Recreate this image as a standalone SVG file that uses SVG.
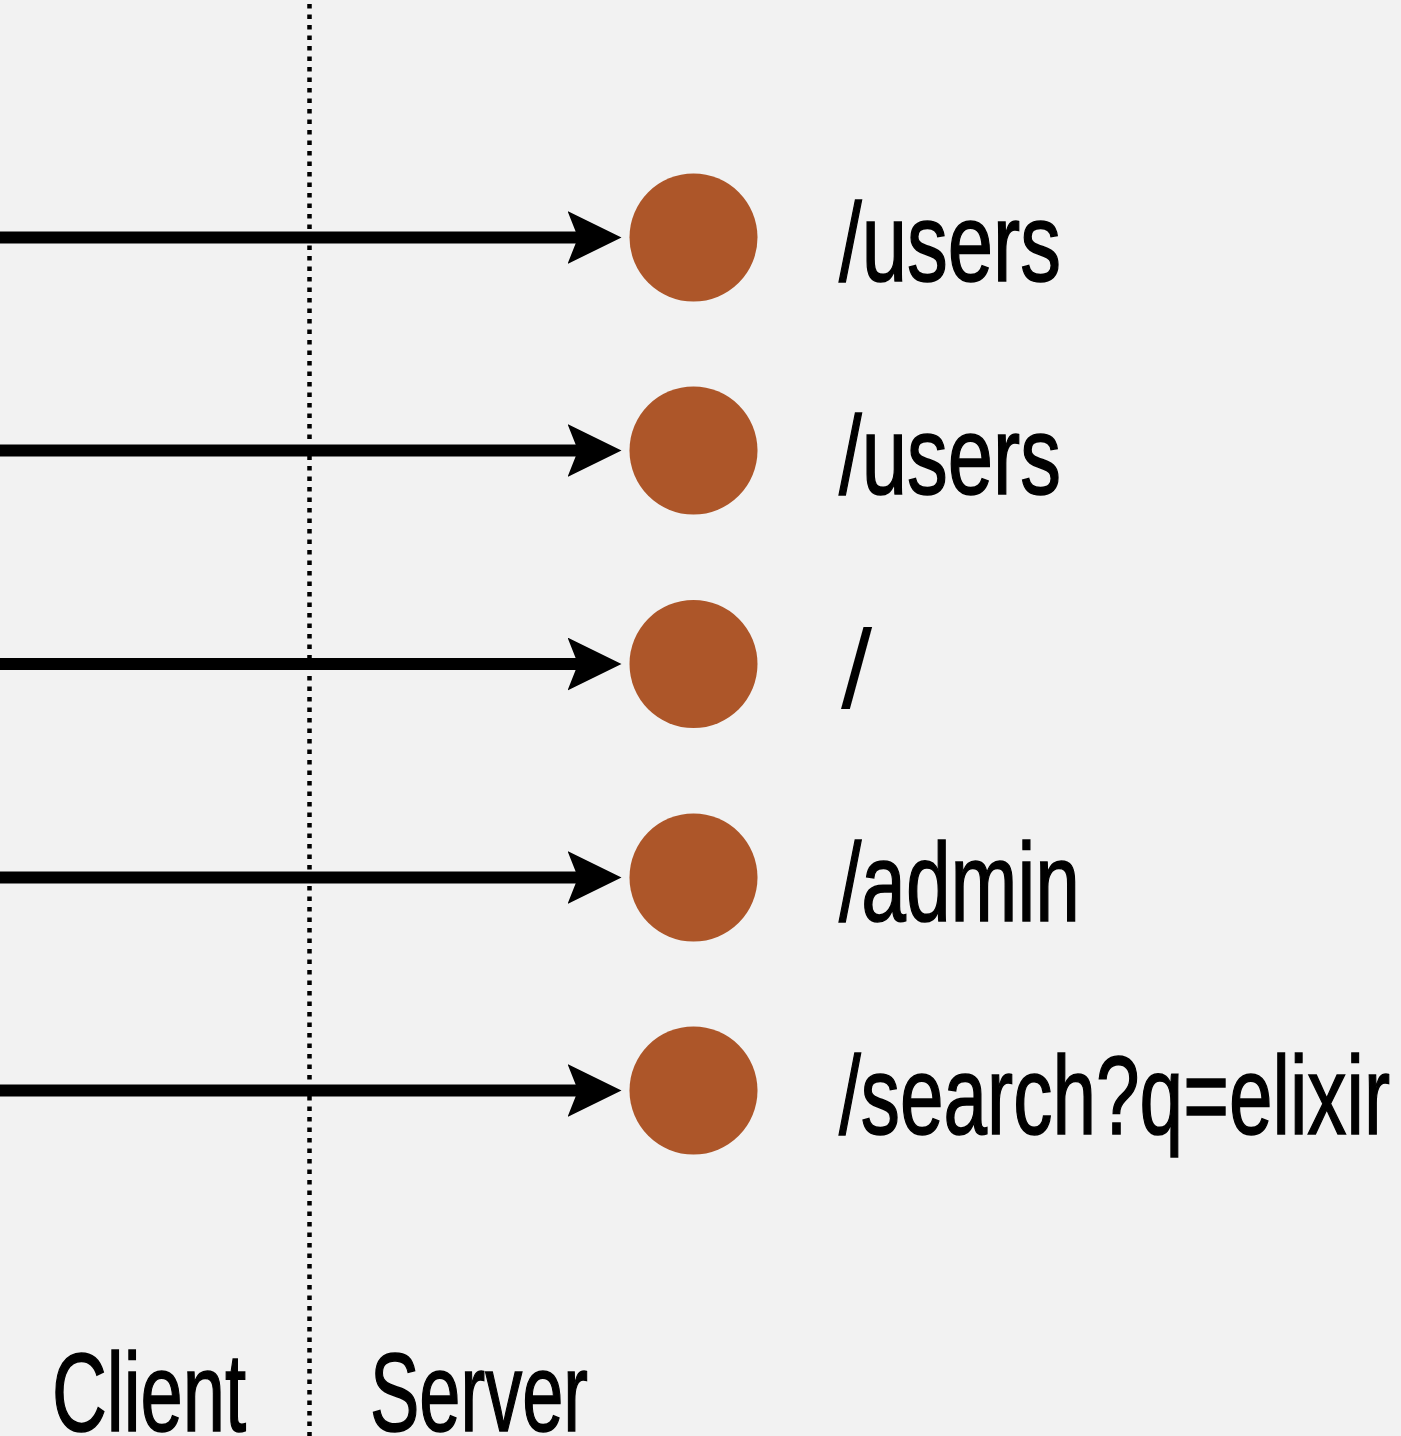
<svg xmlns="http://www.w3.org/2000/svg" width="1401" height="1436" viewBox="0 0 1401 1436">
  <style>
    .lbl { font-family: "Liberation Sans", "DejaVu Sans", sans-serif; font-size: 112px; fill: #000; stroke: #000; stroke-width: 1.6px; }
    .thin { stroke-width: 0; }
    .node { fill: #AD5629; }
    .conn { stroke: #000; stroke-width: 12; fill: none; marker-end: url(#arrow); }
    .divider { stroke: #000; stroke-width: 4.5; stroke-dasharray: 4.5 6; fill: none; }
  </style>
  <defs>
    <marker id="arrow" markerUnits="userSpaceOnUse" viewBox="0 0 54 53" markerWidth="54" markerHeight="53" refX="10.5" refY="26.5" orient="auto">
      <path d="M0,0 L54,26.5 L0,53 L10.5,26.5 Z" fill="#000"/>
    </marker>
  </defs>
  <rect width="1401" height="1436" fill="#F2F2F2"/>

  <g id="divider">
    <line class="divider" x1="309.5" y1="4" x2="309.5" y2="1436"/>
  </g>

  <g id="connectors">
    <line class="conn" x1="0" y1="237.5" x2="578" y2="237.5"/>
    <line class="conn" x1="0" y1="450.5" x2="578" y2="450.5"/>
    <line class="conn" x1="0" y1="664" x2="578" y2="664"/>
    <line class="conn" x1="0" y1="877.5" x2="578" y2="877.5"/>
    <line class="conn" x1="0" y1="1090.5" x2="578" y2="1090.5"/>
  </g>

  <g id="node-users-1">
    <circle class="node" cx="693.5" cy="237.5" r="64"/>
    <text class="lbl" x="839" y="281" textLength="222" lengthAdjust="spacingAndGlyphs">/users</text>
  </g>
  <g id="node-users-2">
    <circle class="node" cx="693.5" cy="450.5" r="64"/>
    <text class="lbl" x="839" y="494" textLength="222" lengthAdjust="spacingAndGlyphs">/users</text>
  </g>
  <g id="node-root">
    <circle class="node" cx="693.5" cy="664" r="64"/>
    <text class="lbl thin" x="841" y="708">/</text>
  </g>
  <g id="node-admin">
    <circle class="node" cx="693.5" cy="877.5" r="64"/>
    <text class="lbl" x="839" y="921" textLength="241" lengthAdjust="spacingAndGlyphs">/admin</text>
  </g>
  <g id="node-search">
    <circle class="node" cx="693.5" cy="1090.5" r="64"/>
    <text class="lbl" x="839" y="1134" textLength="551" lengthAdjust="spacingAndGlyphs">/search?q=elixir</text>
  </g>

  <g id="label-client">
    <text class="lbl" x="52" y="1431" textLength="194" lengthAdjust="spacingAndGlyphs">Client</text>
  </g>
  <g id="label-server">
    <text class="lbl" x="370" y="1431" textLength="218" lengthAdjust="spacingAndGlyphs">Server</text>
  </g>
</svg>
